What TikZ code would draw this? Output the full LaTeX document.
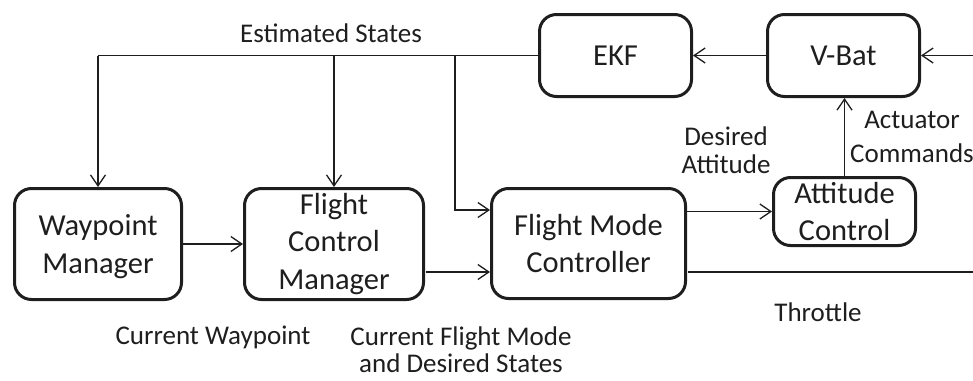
\documentclass[tikz,border=0pt]{standalone}
\usepackage{fontspec}
\setmainfont{Carlito}
\usetikzlibrary{arrows.meta}
\definecolor{ink}{RGB}{30,30,30}
\tikzset{
  blockbox/.style={draw=ink, text=ink, line width=3pt, rounded corners=17pt,
    align=center, inner sep=0pt,
    font=\fontsize{30.5}{37.5}\selectfont},
  conn/.style={draw=ink, line width=1.3pt},
  arr/.style={conn, -{Straight Barb[length=11pt,width=15pt,line width=1.3pt]}},
  lbl/.style={text=ink, anchor=base, inner sep=0pt, font=\fontsize{27}{31}\selectfont}
}
\begin{document}
\begin{tikzpicture}[x=1pt,y=-1pt]
\useasboundingbox (0,0) rectangle (973,380);
% boxes
\node[blockbox, minimum width=167pt, minimum height=111pt, text depth=0pt] (wm)  at (98,244)    {Waypoint\\Manager};
\node[blockbox, minimum width=179pt, minimum height=111pt] (fcm) at (334,244)   {Flight\\Control\\Manager};
\node[blockbox, minimum width=194pt, minimum height=110pt] (fmc) at (588.5,243.5) {Flight Mode\\Controller};
\node[blockbox, minimum width=142pt, minimum height=68pt]  (ac)  at (844.5,211.5) {Attitude\\Control};
\node[blockbox, minimum width=152pt, minimum height=82pt]  (vbat) at (843.5,55.5) {V-Bat};
\node[blockbox, minimum width=152pt, minimum height=82pt]  (ekf) at (615.5,55.5) {EKF};
% coordinates
\coordinate (busL) at (98,55.5);
\coordinate (busM) at (334,55.5);
\coordinate (busR) at (455,55.5);
\coordinate (fmcIn) at (455,210);
\coordinate (rightIn) at (973,55.5);
\coordinate (thrA) at (688,272);
\coordinate (thrB) at (973,272);
\coordinate (fcmOut) at (426,272);
% connectors
\draw[conn] (ekf.west) -- (busL);
\draw[arr] (busL) -- (wm.north);
\draw[arr] (busM) -- (fcm.north);
\draw[arr] (busR) -- (fmcIn) -- (fmcIn -| fmc.west);
\draw[arr] (vbat.west) -- (ekf.east);
\draw[arr] (rightIn) -- (vbat.east);
\draw[arr] (ac.north) -- (ac.north |- vbat.south);
\draw[arr] (ac.west -| fmc.east) -- (ac.west);
\draw[conn] (thrA) -- (thrB);
\draw[arr] (wm.east) -- (fcm.west);
\draw[arr] (fcmOut) -- (fcmOut -| fmc.west);
% labels
\node[lbl] (l1) at (331,42) {Estimated States};
\node[lbl] (l2) at (726,145) {Desired};
\node[lbl] (l3) at (726,173) {Attitude};
\node[lbl] (l4) at (912,128) {Actuator};
\node[lbl] (l5) at (912,162) {Commands};
\node[lbl] (l6) at (818,321) {Throttle};
\node[lbl] (l7) at (213,344) {Current Waypoint};
\node[lbl] (l8) at (461,345) {Current Flight Mode};
\node[lbl] (l9) at (461,372) {and Desired States};
\end{tikzpicture}
\end{document}
